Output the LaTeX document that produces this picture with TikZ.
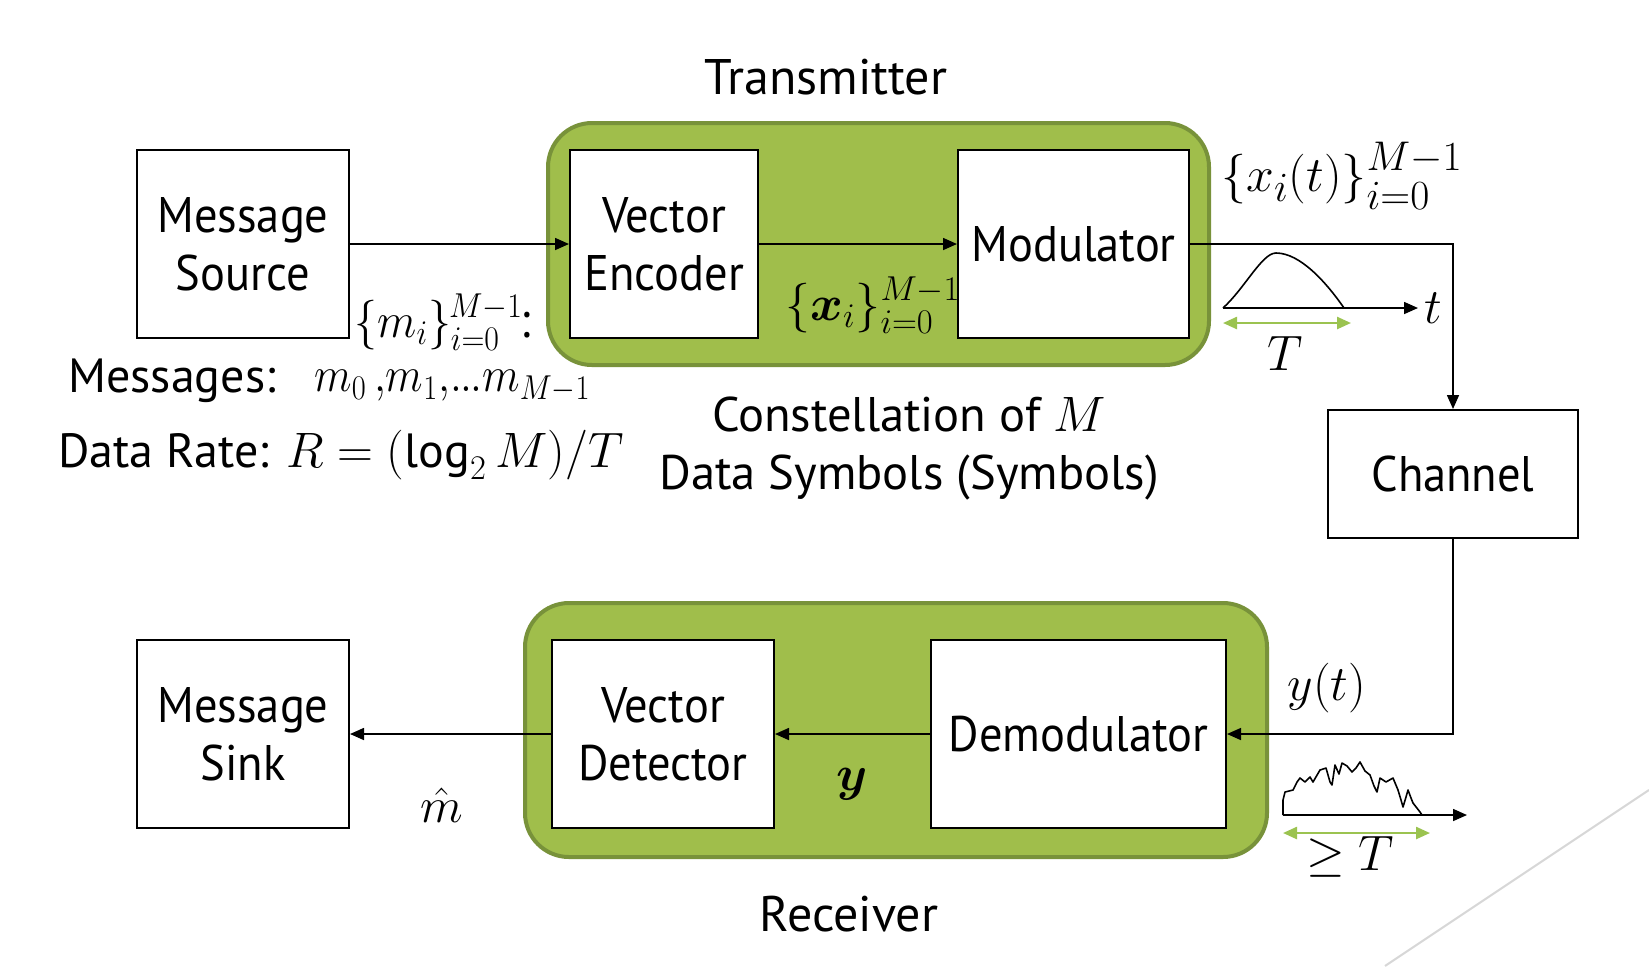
\documentclass[tikz,border=0pt]{standalone}
\usepackage{amsmath}
\usepackage{graphicx}
\usepackage{fontspec}
\setmainfont{PT Sans}
\newfontfamily\boxfont{PT Sans}[FakeStretch=0.93]
\usetikzlibrary{arrows.meta,positioning}
\definecolor{gfill}{RGB}{160,190,75}
\definecolor{gborder}{RGB}{120,146,58}
\definecolor{garrow}{RGB}{155,195,80}
\definecolor{diag}{RGB}{215,215,215}
\tikzset{
  blk/.style={draw=black,line width=1pt,fill=white,align=center,inner sep=0pt,
    font=\boxfont\fontsize{25}{29}\selectfont},
  grn/.style={draw=gborder,line width=2pt,fill=gfill,rounded corners=22pt,inner sep=0pt},
  arr/.style={line width=0.8pt,-{Triangle[length=7pt,width=6pt]}},
  garr/.style={garrow,line width=1.2pt,{Triangle[length=7pt,width=6pt]}-{Triangle[length=7pt,width=6pt]}},
  lbl/.style={inner sep=0pt,font=\fontsize{25}{29}\selectfont},
  mth/.style={inner sep=0pt,font=\fontsize{27}{30}\selectfont},
}
\begin{document}
\begin{tikzpicture}[x=0.5pt,y=-0.5pt]
\useasboundingbox (0,0) rectangle (1649,966);
\fill[white] (0,0) rectangle (1649,966);
\draw[diag,line width=1pt] (1385,966) -- (1649,790);

% green groups
\node[grn,minimum width=330.5pt,minimum height=121pt] (tx) at (878.5,244) {};
\node[grn,minimum width=371pt,minimum height=127pt] (rx) at (896,730) {};

% blocks
\node[blk,minimum width=106pt,minimum height=94pt] (src) at (243,244) {Message\\Source};
\node[blk,minimum width=94pt,minimum height=94pt] (enc) at (664,244) {Vector\\Encoder};
\node[blk,minimum width=115.5pt,minimum height=94pt] (mod) at (1073.5,244) {Modulator};
\node[blk,minimum width=125pt,minimum height=64pt] (ch) at (1453,474) {Channel};
\node[blk,minimum width=111pt,minimum height=94pt] (det) at (663,734) {Vector\\Detector};
\node[blk,minimum width=147.5pt,minimum height=94pt] (dem) at (1078.5,734) {Demodulator};
\node[blk,minimum width=106pt,minimum height=94pt] (snk) at (243,734) {Message\\Sink};

% connectors
\draw[arr] (src) -- (enc);
\draw[arr] (enc) -- (mod);
\draw[arr] (mod.east) -| (ch.north);
\draw[arr] (ch.south) |- (dem.east);
\draw[arr] (dem) -- (det);
\draw[arr] (det) -- (snk);

% titles
\node[lbl] (ttx) at (826,77) {Transmitter};
\node[lbl] (trx) at (849,914) {Receiver};
\node[lbl,align=center,font=\fontsize{24.3}{29}\selectfont] (tcon) at (909,449) {Constellation of $M$\\Data Symbols (Symbols)};

% left texts
\node[mth,anchor=west,font=\fontsize{25}{28}\selectfont] (mset) at (354,322) {\scalebox{0.92}[1]{$\{m_i\}_{i=0}^{\kern-1pt M-1}$\kern-1.5pt:}};
\node[lbl,anchor=west,font=\fontsize{24}{29}\selectfont] (msg) at (68,381) {Messages:};
\node[mth,anchor=west,font=\fontsize{25}{28}\selectfont] (mlist) at (314,386) {\scalebox{0.88}[1]{$m_{0}\,{,}m_{1}{,}{.}\kern-1pt{.}\kern-1pt{.}m_{M-1}$}};
\node[lbl,anchor=west,font=\fontsize{24}{29}\selectfont] (rate) at (58,455) {Data Rate: $R=(\log_2 M)/T$};

% signal labels
\node[mth] (xset) at (873,305) {$\{\boldsymbol{x}_i\}_{i=0}^{M-1}$};
\node[mth,font=\fontsize{28.5}{30}\selectfont] (xt) at (1342,176) {$\{x_i(t)\}_{i=0}^{M-1}$};
\node[mth,font=\fontsize{31}{32}\selectfont] (yt) at (1327,688) {$y(t)$};
\node[mth,font=\fontsize{30}{32}\selectfont] (yv) at (852,784) {$\boldsymbol{y}$};
\node[mth,font=\fontsize{30}{32}\selectfont] (mh) at (442,805) {$\hat{m}$};

% pulse
\coordinate (p0) at (1223,308);
\coordinate (p1) at (1344,308);
\coordinate (pe) at (1418,308);
\draw[line width=0.8pt] (p0) .. controls (1245,288) and (1262,253) .. (1276,253) .. controls (1300,253) and (1326,282) .. (p1);
\draw[arr] (p0) -- (pe);
\node[mth,anchor=west,font=\fontsize{30}{32}\selectfont] (tl) at (1424,308) {$t$};
\coordinate (g0) at (1223,323);
\coordinate (g1) at (1351,323);
\draw[garr] (g0) -- (g1);
\node[mth,font=\fontsize{30}{32}\selectfont] (Tl) at (1285,353) {$T$};

% noise
\coordinate (n0) at (1283,815);
\coordinate (ne) at (1467,815);
\draw[line width=0.8pt,line join=round] (n0) -- (1283,800) -- (1285,792) -- (1293,790) -- (1297,782) -- (1300,778) -- (1305,782) -- (1310,777) -- (1313,782) -- (1320,770) -- (1326,768) -- (1330,782) -- (1332,785) -- (1335,765) -- (1339,774) -- (1342,763) -- (1347,766) -- (1352,772) -- (1356,768) -- (1360,762) -- (1365,771) -- (1370,775) -- (1374,786) -- (1377,792) -- (1380,778) -- (1386,782) -- (1393,778) -- (1398,790) -- (1401,800) -- (1403,807) -- (1406,797) -- (1408,790) -- (1411,798) -- (1413,803) -- (1420,812) -- (1422,815);
\draw[arr] (n0) -- (ne);
\coordinate (h0) at (1283,833);
\coordinate (h1) at (1430,833);
\draw[garr] (h0) -- (h1);
\node[mth,font=\fontsize{30}{32}\selectfont] (geT) at (1350,857) {$\geq T$};
\end{tikzpicture}
\end{document}
